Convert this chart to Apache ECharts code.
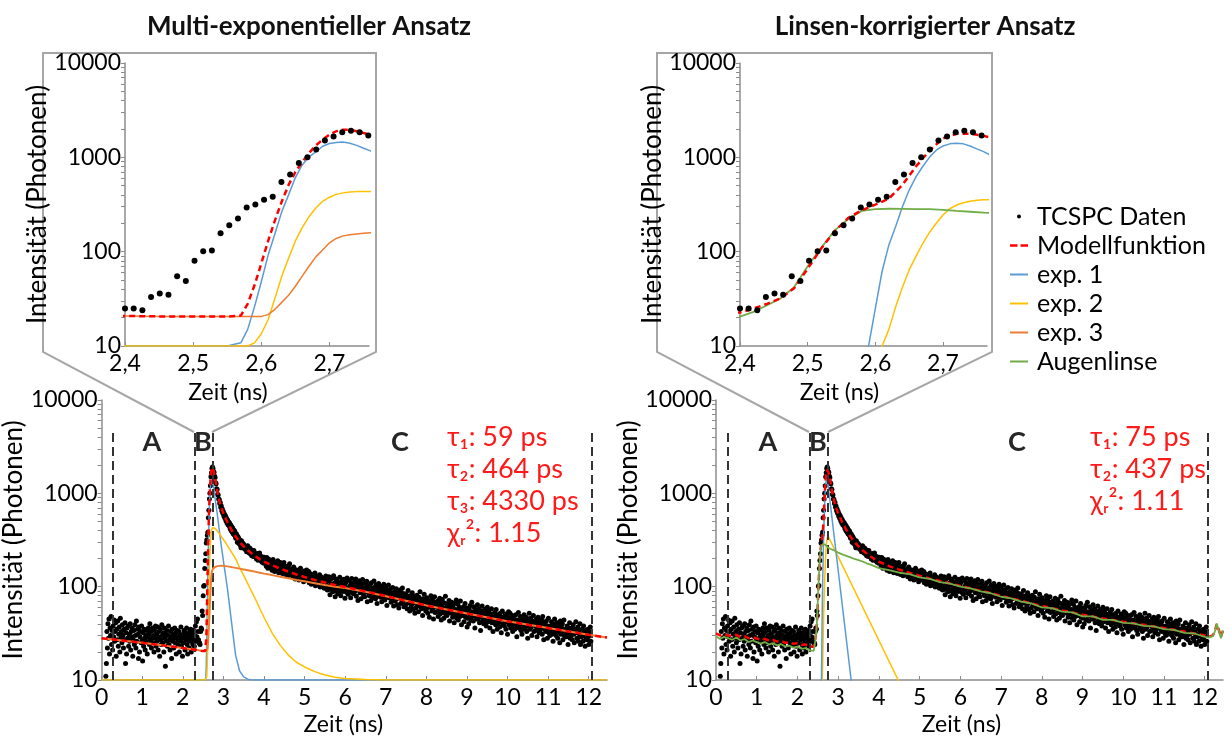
<!DOCTYPE html>
<html><head><meta charset="utf-8">
<script src="https://cdn.jsdelivr.net/npm/echarts@6/dist/echarts.min.js"></script>
<style>html,body{margin:0;padding:0;background:#fff}#c{width:1232px;height:743px}</style>
</head><body><div id="c"></div>
<script>
// ---------- DATA ----------
// TCSPC histogram (same measurement in both panels); bins start at 0.105 ns, 0.01275 ns wide
const dataStart = 0.105, dataStep = 0.01275;
const counts = [
 // 0.105 - 2.387 ns (before the pulse)
 11,15,33,22,40,28,45,19,36,30, 48,24,34,21,38,29,44,26,33,41, 18,35,27,43,23,31,37,20,46,28,
 33,25,39,30,22,35,27,41,15,32, 19,36,28,38,23,31,26,40,21,33, 29,36,18,27,34,24,39,30,22,43,
 26,35,31,17,37,20,29,33,25,38, 27,16,32,23,35,28,21,30,26,34, 19,29,36,31,24,40,27,33,22,28,
 36,25,30,20,34,28,38,23,31,26, 37,21,29,33,18,35,27,24,39,30, 25,32,20,36,28,14,31,26,34,23,
 30,38,24,27,21,33,29,17,35,26, 31,22,28,36,25,32,19,29,34,24, 27,33,20,30,26,37,23,28,18,31,
 25,34,29,21,32,27,36,24,19,30, 28,22,33,26,35,20,29,31,24,27, 34,23,30,38,26,42,29,45,33,27,
 // 2.400 - 2.757 ns (rise)
 25,25,24,33,36,35,55,49,80,101,103,157,191,225,294,316,356,383,549,657,870,1000,1208,1510,1660,1840,1910,1840,1700,
 // 2.770 - 12.05 ns (decay)
 1680,1530,1480,1300,1270,1120,1100,980,960,870, 860,780,800,710,730,650,680,610,640,570,
 600,540,575,510,545,480,520,460,495,450, 480,420,460,400,440,385,425,370,405,360,
 395,345,330,370,355,300,345,335,290,320, 300,278,262,310,285,270,292,258,281,268,
 270,248,262,236,258,275,242,252,230,260, 240,222,248,215,236,228,210,244,226,218,
 222,205,198,226,210,192,218,203,230,196, 204,188,210,183,199,192,178,207,190,185,
 190,165,205,172,158,186,197,168,181,160, 162,185,150,176,196,158,171,145,183,167,
 175,148,168,190,152,141,170,159,182,155, 147,166,138,172,158,181,143,153,135,164,
 160,139,152,131,168,147,176,137,150,143, 135,155,128,147,162,133,140,121,152,138,
 142,126,150,131,118,145,136,158,124,139, 123,139,134,113,147,128,120,142,131,151,
 132,117,126,145,110,129,121,137,106,128, 114,131,108,125,120,140,102,118,128,111,
 124,104,119,111,134,99,116,127,107,121, 105,123,113,96,118,109,130,101,115,92,
 114,93,128,101,82,119,106,96,124,88, 99,131,90,110,78,104,121,93,115,84,
 109,85,97,126,92,80,113,102,118,89, 92,120,104,75,98,111,87,124,95,83,
 117,88,101,93,76,109,122,86,99,105, 84,98,112,90,121,79,95,104,71,108,
 101,116,86,94,74,107,89,119,97,80, 95,78,108,88,99,114,69,91,103,84,
 80,103,92,71,110,85,97,76,89,115, 98,82,74,104,90,66,95,87,108,79,
 88,101,77,84,69,96,80,92,106,73, 72,86,99,79,63,91,84,104,76,82,
 93,75,68,85,80,98,71,62,87,78, 70,81,95,74,64,88,77,59,83,92,
 79,66,87,72,97,69,76,61,84,74, 64,83,73,58,78,91,67,75,55,80,
 75,61,70,86,66,57,79,69,52,73, 59,72,81,63,68,54,77,65,88,61,
 70,58,66,49,74,62,83,60,68,55, 57,76,64,52,69,60,47,71,63,80,
 66,55,72,59,45,64,78,53,61,68, 54,63,70,48,61,57,75,51,66,44,
 62,73,53,58,46,67,55,79,50,60, 49,60,66,54,71,43,58,62,52,68,
 59,47,63,55,41,67,51,57,72,46, 50,65,44,56,60,48,70,53,39,58,
 57,49,61,42,54,66,47,52,59,37, 46,55,40,58,51,63,44,50,68,48,
 54,43,61,49,36,52,57,45,50,64, 45,52,58,41,49,34,55,47,62,43,
 51,40,47,57,44,53,38,49,60,42, 43,55,48,36,51,45,58,41,47,33,
 49,42,53,46,39,57,44,35,50,47, 41,48,37,52,45,32,47,55,40,46,
 47,38,44,51,35,42,49,31,45,54, 39,46,52,36,43,40,49,33,44,37,
 45,35,41,50,38,29,44,40,53,36, 37,43,48,34,41,31,45,39,35,50,
 43,36,40,47,33,42,28,45,38,52, 35,41,46,37,30,43,39,49,33,40,
 41,34,38,45,29,40,47,36,32,42, 34,40,36,44,31,48,37,27,41,35,
 39,33,43,35,28,38,46,32,37,30, 33,38,42,31,36,26,40,35,45,32,
 37,30,34,41,28,39,33,36,25,43, 31,37,33,40,27,35,44,30,34,29,
 35,29,38,32,24,36,31,41,28,33, 30,36,27,34,39,31,25,35,32,42,
 34,28,32,37,26,33,29,40,24,31, 29,35,31,26,38,30,33,23,34,28,
 32,27,35,29,24,33,30,37,26
];

// left panel (multi-exponential) curves
const timeL = [0,0.5,1,1.5,2, 2.4,2.45,2.5,2.55,
 2.57,2.58,2.59,2.6,2.61,2.62,2.63,2.64,2.65,2.66,
 2.67,2.68,2.69,2.7,2.71,2.72,2.73,2.74,2.75,2.76,
 2.8,2.85,2.9,2.95, 3.0,3.1,3.2,3.3,3.4,3.5,3.6,3.7,3.8,3.9,4.0,
 4.2,4.4,4.6,4.8,5.0, 5.25,5.5,5.75,6.0, 6.5,7.0,7.5,8.0, 9,10,11,12,12.45];
const modelL = [28,26.5,25,23.5,22, 20.8,20.6,20.5,20.5,
 21,28,44,75,130,215,340,510,700,890,
 1110,1340,1540,1740,1890,1960,1960,1890,1810,1740,
 1420,1050,830,700, 610,490,405,345,300,270,246,226,210,196,185,
 170,156,145,135,127, 118,111,104,99, 89,79.5,70.5,63, 51.5,42.5,36,30.5,28.5];
const exp1L = [10,10,10,10,10, 10,10,10,10,
 10.8,15,26,48,92,155,265,400,610,830,
 1010,1140,1310,1400,1440,1450,1410,1340,1250,1170,
 850,600,400,270, 190,95,42,18.5,12.5,10.8,10.2,10,10,10,10,
 10,10,10,10,10, 10,10,10,10, 10,10,10,10, 10,10,10,10,10];
const exp2L = [10,10,10,10,10, 10,10,10,10,
 10,10,10.8,13.5,19,32,55,85,130,180,
 235,290,342,378,405,420,428,433,434,433,
 420,395,370,345, 320,275,235,200,160,132,108,88,72,58,47,
 32,23.5,18.5,15.5,13.8, 12.3,11.3,10.7,10.4, 10.1,10,10,10, 10,10,10,10,10];
const exp3L = [28,26.5,25,23.5,22, 20.8,20.6,20.5,20.5,
 20.5,20.5,20.5,20.6,21.5,24.5,29,34.5,43,55,
 70,88,104,124,138,147,151,154,157,159,
 163,166,167,168, 167,165,162,159,156,153,150,147,144,141,138,
 133,128,123,118,114, 109,104,100,97, 88,79,70.5,63, 51.5,42.5,36,30.5,28.5];

// right panel (lens-corrected) curves
const timeR = [0,0.1,0.2,0.3,0.4,0.5,0.6,0.7,0.8,0.9,
 1.0,1.1,1.2,1.3,1.4,1.5,1.6,1.7,1.8,1.9,
 2.0,2.1,2.2,2.3,2.4,
 2.42,2.44,2.46,2.48,2.5,2.52,2.54,2.56,2.58,
 2.6,2.62,2.64,2.66,2.68,2.7,2.72,2.74,2.76,
 2.8,2.85,2.9,2.95,3.0,
 3.1,3.2,3.3,3.4,3.5,3.6,3.7,3.8,3.9,4.0,
 4.25,4.5,4.75,5.0,5.25,5.5,5.75,6.0,
 6.25,6.5,6.75,7.0,7.25,7.5,7.75,8.0,
 8.25,8.5,8.75,9.0,9.25,9.5,9.75,10.0,
 10.25,10.5,10.75,11.0,11.25,11.5,11.75,12.0,
 12.1,12.2,12.25,12.3,12.33,12.37,12.4,12.45];
const modelR = [31.5,30,31,30,29.5,30.5,29,29.5,28,28.8,
 27.8,27,27.6,26.4,26.8,25.8,26.2,25,25.4,24.4,
 24.8,23.8,24,23,22.6,
 25,28,32,41,66,108,165,228,275,
 315,365,510,800,1180,1590,1780,1780,1690,
 1420,1050,830,700,610,
 490,405,345,300,270,246,226,210,196,185,
 166,152,141,131,122,115,108,102,
 96,90.5,85,80,75,70.5,66,62,
 59,55.5,53,50,48,45.5,44,42,
 40.5,39,37.5,36,34.5,33,31.5,30,
 29,30,33.5,40,41.5,32,29,34];
const lensR = [29.5,27.5,29,28,27,28.5,26.5,27.5,25.5,26.5,
 25.5,24.5,25.5,24,24.8,23.5,24.2,22.8,23.3,22.2,
 22.8,21.6,22,20.8,20.5,
 23,27,32,42,70,110,168,222,270,
 283,285,284,282,282,277,270,265,259,
 255,250,245,238,232,
 222,214,206,198,192,186,178,172,165,158,
 150,141,136,126,121,112,108,100,
 96,89,85,78,75,69,66,60,
 59,54,53,48,48,44,44,41,
 40.5,38,37.5,35,34.5,32,31.5,29,
 28.5,29.5,33,40,41,31,28,34];
const exp1TimeR = [2.58,2.59,2.6,2.61,2.62,2.63,2.64,2.65,2.66,2.67,2.68,2.69,2.7,2.71,2.72,2.73,2.74,2.75,2.76,2.8,3.4];
const exp1R = [5,10,25,62,118,185,300,450,620,800,1000,1190,1320,1390,1410,1390,1320,1230,1150,820,5];
const exp2TimeR = [2.6,2.61,2.62,2.63,2.64,2.65,2.66,2.67,2.68,2.69,2.7,2.71,2.72,2.73,2.74,2.75,2.76,2.78,4.6];
const exp2R = [7,10,15,26,42,64,89,122,160,200,245,285,312,330,342,350,355,356,7.7];

// fit-region boundaries (ns), tick values and annotation texts
const bounds = [0.28, 2.3, 2.75, 12.07];
const boundTop = 4540;
const xTickValues = [0,1,2,3,4,5,6,7,8,9,10,11,12];
const insetXTicks = [2.4,2.5,2.6,2.7];
const yLabelValues = [10,100,1000,10000];
const yTickValues = [10,20,30,40,50,60,70,80,90,100,200,300,400,500,600,700,800,900,1000,2000,3000,4000,5000,6000,7000,8000,9000,10000];
const paramsL = ['τ₁: 59 ps','τ₂: 464 ps','τ₃: 4330 ps','χᵣ²: 1.15'];
const paramsR = ['τ₁: 75 ps','τ₂: 437 ps','χᵣ²: 1.11'];

// ---------- CHART ----------
const FONT = "Lato, 'Open Sans', 'DejaVu Sans', sans-serif";
const AX = '#8c8c8c';
const C = {model:'#ff0000', e1:'#5b9bd5', e2:'#ffc000', e3:'#ed7d31', lens:'#70ad47', dot:'#000'};
const pts = (ts, vs) => ts.map((t, i) => [t, vs[i]]);
const mainData = counts.map((v, i) => [+(dataStart + i * dataStep).toFixed(5), v]);

function xAxis(gi, min, max, ticks, gap, fmt, shift) {
  return {type:'value', gridIndex:gi, min, max,
    name:'Zeit (ns)', nameLocation:'middle', nameGap:gap,
    nameTextStyle:{fontSize:23, fontFamily:FONT, color:'#000', padding:[0, shift * 2, 0, 0]},
    axisLine:{show:true, onZero:false, lineStyle:{color:AX, width:1.5}},
    axisTick:{show:true, inside:true, length:4, customValues:ticks, lineStyle:{color:AX}},
    axisLabel:{customValues:ticks, fontSize:23, fontFamily:FONT, color:'#000', margin:6, formatter:fmt},
    splitLine:{show:false}};
}
function yAxis(gi, gap) {
  return {type:'log', logBase:10, gridIndex:gi, min:10, max:10000,
    name:'Intensität (Photonen)', nameLocation:'middle', nameGap:gap, nameRotate:90,
    nameTextStyle:{fontSize:26, fontFamily:FONT, color:'#000'},
    axisLine:{show:true, lineStyle:{color:AX, width:1.5}},
    axisTick:{show:true, inside:false, length:4, customValues:yTickValues, lineStyle:{color:AX}},
    axisLabel:{customValues:yLabelValues, fontSize:23, fontFamily:FONT, color:'#000', margin:4,
      formatter: v => String(Math.round(v))},
    splitLine:{show:false}, minorTick:{show:false}};
}
function line(name, data, ai, color, width, dashed, z) {
  return {name, type:'line', xAxisIndex:ai, yAxisIndex:ai, data, symbol:'none', showSymbol:false,
    lineStyle:{color, width, type: dashed ? [6,4] : 'solid'}, itemStyle:{color}, z, silent:true};
}
function dots(ai, size, z, withBounds) {
  const s = {name:'TCSPC Daten', type:'scatter', xAxisIndex:ai, yAxisIndex:ai, data:mainData, symbol:'circle',
    symbolSize:size, itemStyle:{color:C.dot, opacity:1}, z, silent:true, clip:true};
  if (withBounds) {
    s.markLine = {silent:true, symbol:['none','none'], label:{show:false},
      lineStyle:{type:[9,5], color:'#333', width:2},
      data: bounds.map(t => [{coord:[t, 10]}, {coord:[t, boundTop]}])};
  }
  return s;
}
const dec = v => Number.isInteger(v) ? String(v) : '';
const decComma = v => v.toFixed(1).replace('.', ',');

const gfx = [];
gfx.push({type:'polyline', shape:{points:[[194,432],[43,352],[43,53],[376,53],[376,352],[212,432]]},
  style:{stroke:'#a6a6a6', lineWidth:2, fill:null}, z:-1});
gfx.push({type:'polyline', shape:{points:[[809,432],[657,352],[657,53],[992,53],[992,352],[828,432]]},
  style:{stroke:'#a6a6a6', lineWidth:2, fill:null}, z:-1});
gfx.push({type:'text', x:309, y:27, style:{text:'Multi-exponentieller Ansatz', font:'bold 26px ' + FONT, fill:'#111', align:'center', verticalAlign:'middle'}});
gfx.push({type:'text', x:925, y:27, style:{text:'Linsen-korrigierter Ansatz', font:'bold 26px ' + FONT, fill:'#111', align:'center', verticalAlign:'middle'}});
[['A',152],['B',203],['C',400],['A',768],['B',818],['C',1017]].forEach(([t, x]) =>
  gfx.push({type:'text', x, y:442, style:{text:t, font:'bold 27px ' + FONT, fill:'#262626', align:'center', verticalAlign:'middle'}}));
paramsL.forEach((t, i) => gfx.push({type:'text', x:447, y:437 + 32 * i, style:{text:t, font:'27px ' + FONT, fill:'#ff1a1a', align:'left', verticalAlign:'middle'}}));
paramsR.forEach((t, i) => gfx.push({type:'text', x:1090, y:437 + 32 * i, style:{text:t, font:'27px ' + FONT, fill:'#ff1a1a', align:'left', verticalAlign:'middle'}}));

const ICON_LINE = 'path://M0,0M22,14M0,6h18v2h-18z';
const ICON_DASH = 'path://M0,0M22,14M0,5.8h7.5v2.4h-7.5zM10.5,5.8h7.5v2.4h-7.5z';
const ICON_DOT = 'path://M0,0M22,14M7,7a2,2 0 1,0 4,0a2,2 0 1,0 -4,0z';

const option = {
  animation:false,
  backgroundColor:'#fff',
  grid:[
    {left:100, top:400, width:507, height:280},
    {left:716, top:400, width:507, height:280},
    {left:125, top:63, width:244, height:283},
    {left:740, top:63, width:247, height:283}
  ],
  xAxis:[
    xAxis(0, 0, 12.45, xTickValues, 33, dec, 11),
    xAxis(1, 0, 12.45, xTickValues, 33, dec, 8),
    xAxis(2, 2.4, 2.758, insetXTicks, 35, decComma, 19),
    xAxis(3, 2.4, 2.765, insetXTicks, 35, decComma, 24)
  ],
  yAxis:[yAxis(0, 56), yAxis(1, 56), yAxis(2, 59), yAxis(3, 59)],
  legend:{orient:'vertical', left:1010, top:204, padding:0, itemWidth:22, itemHeight:14, itemGap:4,
    selectedMode:false,
    textStyle:{fontSize:25, fontFamily:FONT, color:'#000', lineHeight:25},
    data:[{name:'TCSPC Daten', icon:ICON_DOT},
      {name:'Modellfunktion', icon:ICON_DASH},
      {name:'exp. 1', icon:ICON_LINE},
      {name:'exp. 2', icon:ICON_LINE},
      {name:'exp. 3', icon:ICON_LINE},
      {name:'Augenlinse', icon:ICON_LINE}]},
  graphic:gfx,
  series:[
    // left main
    dots(0, 5, 2, true),
    line('exp. 1', pts(timeL, exp1L), 0, C.e1, 1.5, false, 3),
    line('exp. 2', pts(timeL, exp2L), 0, C.e2, 1.5, false, 4),
    line('exp. 3', pts(timeL, exp3L), 0, C.e3, 2, false, 5),
    line('Modellfunktion', pts(timeL, modelL), 0, C.model, 2.5, true, 6),
    // right main
    dots(1, 5, 2, true),
    line('exp. 2', pts(exp2TimeR, exp2R), 1, C.e2, 1.5, false, 3),
    line('exp. 1', pts(exp1TimeR, exp1R), 1, C.e1, 1.5, false, 4),
    line('Modellfunktion', pts(timeR, modelR), 1, C.model, 2.5, true, 5),
    line('Augenlinse', pts(timeR, lensR), 1, C.lens, 1.8, false, 6),
    // left inset
    line('exp. 1', pts(timeL, exp1L), 2, C.e1, 1.5, false, 3),
    line('exp. 2', pts(timeL, exp2L), 2, C.e2, 1.5, false, 4),
    line('exp. 3', pts(timeL, exp3L), 2, C.e3, 1.5, false, 5),
    line('Modellfunktion', pts(timeL, modelL), 2, C.model, 2.5, true, 6),
    dots(2, 6, 7, false),
    // right inset
    line('exp. 2', pts(exp2TimeR, exp2R), 3, C.e2, 1.5, false, 3),
    line('exp. 1', pts(exp1TimeR, exp1R), 3, C.e1, 1.5, false, 4),
    line('Augenlinse', pts(timeR, lensR), 3, C.lens, 1.8, false, 5),
    line('Modellfunktion', pts(timeR, modelR), 3, C.model, 2.5, true, 6),
    dots(3, 6, 7, false)
  ]
};
const chart = echarts.init(document.getElementById('c'), null, {renderer:'canvas'});
chart.setOption(option);
</script></body></html>
